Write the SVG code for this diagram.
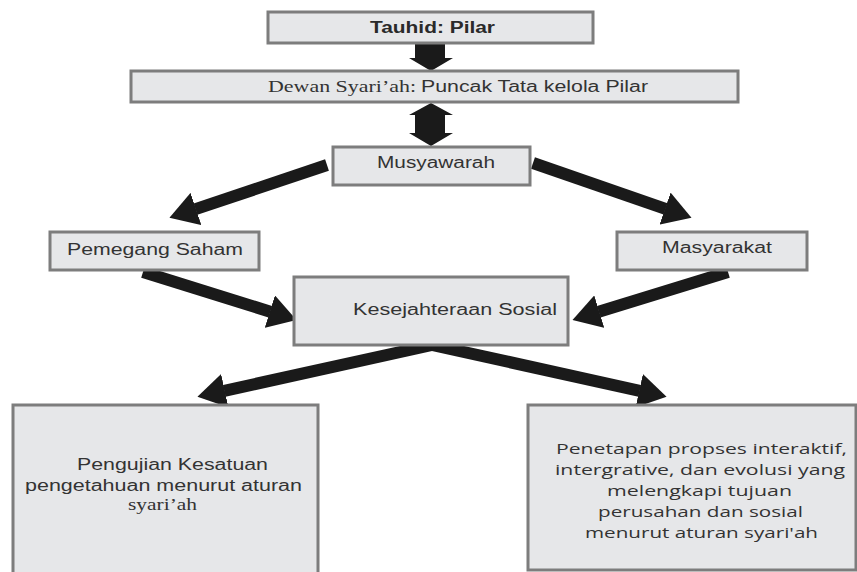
<svg xmlns="http://www.w3.org/2000/svg" width="857" height="572" viewBox="0 0 857 572">
<style>
.box{fill:#e6e7e9;stroke:#7d7d7d;stroke-width:3}
.t{font-family:"Liberation Sans",Arial,sans-serif;font-size:16px;fill:#333333}
.s{font-family:"Liberation Serif","Times New Roman",serif;font-size:17px;fill:#333333}
.c{font-family:"Open Sans","Noto Sans",sans-serif;font-size:15px;fill:#333333}
.b{font-weight:bold;fill:#2a2a2a}
.arr{stroke:#1a1a1a;stroke-width:12;fill:none;marker-end:url(#head)}
.blk{fill:#1a1a1a}
</style>
<defs>
<marker id="head" markerUnits="userSpaceOnUse" markerWidth="28" markerHeight="34" viewBox="0 0 28 34" refX="0.5" refY="17" orient="auto">
<path d="M0,0 L28,17 L0,34 z" fill="#1a1a1a"/>
</marker>
</defs>
<rect width="857" height="572" fill="#ffffff"/>
<g id="connectors">
<polygon class="blk" points="415,43 445,43 445,58 453,58 431,71 409,58 415,58"/>
<polygon class="blk" points="431,103 453,115 445,115 445,133 453,133 431,146 409,133 415,133 415,115 409,115"/>
<line class="arr" x1="327" y1="165" x2="195.5" y2="209.1"/>
<line class="arr" x1="533" y1="163" x2="665.5" y2="208.8"/>
<line class="arr" x1="143" y1="272" x2="270.3" y2="311.7"/>
<line class="arr" x1="728" y1="272" x2="598.8" y2="311.8"/>
<line class="arr" x1="432" y1="345" x2="224.3" y2="390.8"/>
<line class="arr" x1="432" y1="345" x2="639.7" y2="390.8"/>
</g>
<g id="tauhid">
<rect class="box" x="268" y="12" width="325" height="31"/>
<text class="t b" x="370" y="33" textLength="125" lengthAdjust="spacingAndGlyphs">Tauhid: Pilar</text>
</g>
<g id="dewan">
<rect class="box" x="131" y="71" width="607" height="31"/>
<text class="s" x="268" y="92" textLength="148" lengthAdjust="spacingAndGlyphs">Dewan Syari’ah:</text>
<text class="t" x="421" y="92" textLength="227" lengthAdjust="spacingAndGlyphs">Puncak Tata kelola Pilar</text>
</g>
<g id="musyawarah">
<rect class="box" x="333" y="147" width="197" height="38"/>
<text class="t" x="377" y="168" textLength="118" lengthAdjust="spacingAndGlyphs">Musyawarah</text>
</g>
<g id="pemegang">
<rect class="box" x="50" y="232" width="209" height="38"/>
<text class="t" x="67" y="255" textLength="176" lengthAdjust="spacingAndGlyphs">Pemegang Saham</text>
</g>
<g id="masyarakat">
<rect class="box" x="617" y="232" width="190" height="38"/>
<text class="t" x="662" y="253" textLength="110" lengthAdjust="spacingAndGlyphs">Masyarakat</text>
</g>
<g id="kesejahteraan">
<rect class="box" x="294" y="277" width="274" height="68"/>
<text class="t" x="353" y="315" textLength="204" lengthAdjust="spacingAndGlyphs">Kesejahteraan Sosial</text>
</g>
<g id="pengujian">
<rect class="box" x="13" y="405" width="305" height="172"/>
<text class="t" x="77" y="470" textLength="191" lengthAdjust="spacingAndGlyphs">Pengujian Kesatuan</text>
<text class="t" x="25" y="491" textLength="277" lengthAdjust="spacingAndGlyphs">pengetahuan menurut aturan</text>
<text class="s" x="128" y="510" textLength="69" lengthAdjust="spacingAndGlyphs">syari’ah</text>
</g>
<g id="penetapan">
<rect class="box" x="528" y="405" width="328" height="165"/>
<text class="c" x="556" y="454" textLength="291" lengthAdjust="spacingAndGlyphs">Penetapan propses interaktif,</text>
<text class="c" x="555" y="475" textLength="290" lengthAdjust="spacingAndGlyphs">intergrative, dan evolusi yang</text>
<text class="c" x="607" y="496" textLength="185" lengthAdjust="spacingAndGlyphs">melengkapi tujuan</text>
<text class="c" x="598" y="517" textLength="205" lengthAdjust="spacingAndGlyphs">perusahan dan sosial</text>
<text class="c" x="585" y="538" textLength="233" lengthAdjust="spacingAndGlyphs">menurut aturan syari'ah</text>
</g>
</svg>
